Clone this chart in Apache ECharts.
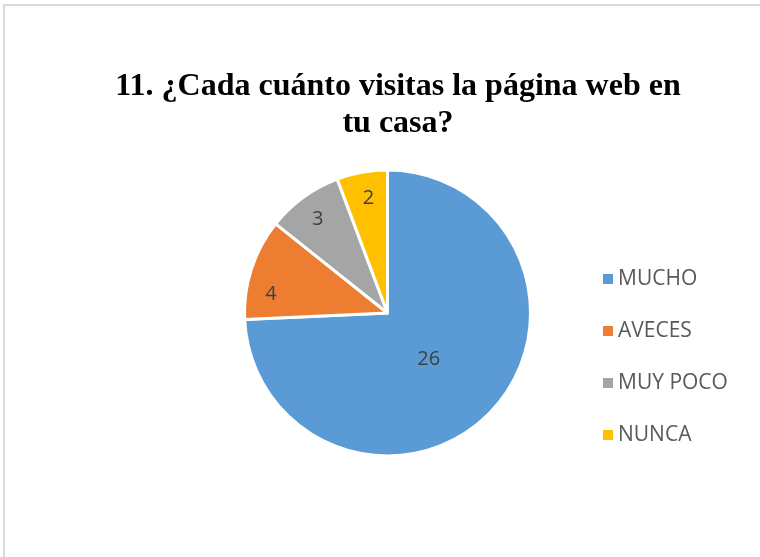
<!DOCTYPE html>
<html>
<head>
<meta charset="utf-8">
<script src="https://cdn.jsdelivr.net/npm/echarts@6/dist/echarts.min.js"></script>
<style>
    html, body { margin: 0; padding: 0; background: #fff; }
    #frame {
        position: absolute; left: 3px; top: 4px; width: 760px; height: 560px;
        border-top: 2px solid #d9d9d9; border-left: 2px solid #d9d9d9;
    }
    #chart { position: absolute; left: 0; top: 0; width: 760px; height: 557px; }
</style>
</head>
<body>
<div id="frame"></div>
<div id="chart"></div>
<script>
// chart data
const titleText = '11. ¿Cada cuánto visitas la página web en\ntu casa?';
const categories = ['MUCHO', 'AVECES', 'MUY POCO', 'NUNCA'];
const values = [26, 4, 3, 2];
const colors = ['#5B9BD5', '#ED7D31', '#A5A5A5', '#FFC000'];

const center = [387.5, 313];
const radius = 143;

// Excel puts small-slice labels near the rim and the big one nearer the middle,
// and not always on the mid angle, so nudge them a bit (pixels)
const labelNudge = [[-5, 2], [1, 20], [3, 6], [3, 7]];

const chart = echarts.init(document.getElementById('chart'), null, { renderer: 'canvas' });

const total = values.reduce((a, b) => a + b, 0);
const labelRatio = (idx) => (values[idx] / total > 0.5 ? 0.43 : 0.83);

const option = {
    animation: false,
    color: colors,
    title: {
        text: titleText,
        left: 393,
        top: 63,
        textAlign: 'center',
        textStyle: {
            fontFamily: 'Liberation Serif',
            fontWeight: 'bold',
            fontSize: 32,
            lineHeight: 37,
            color: '#000'
        }
    },
    legend: {
        orient: 'vertical',
        left: 598,
        top: 262,
        icon: 'rect',
        itemWidth: 10,
        itemHeight: 10,
        itemGap: 28,
        selectedMode: false,
        data: categories,
        itemStyle: { borderWidth: 0 },
        textStyle: {
            fontFamily: 'Open Sans',
            fontSize: 21,
            lineHeight: 24,
            color: '#595959',
            padding: [0, 0, 0, 0]
        }
    },
    series: [{
        type: 'pie',
        center: center,
        radius: radius,
        startAngle: 90,
        clockwise: true,
        avoidLabelOverlap: false,
        data: categories.map((name, i) => ({ name: name, value: values[i] })),
        itemStyle: {
            borderColor: '#fff',
            borderWidth: 3
        },
        label: {
            show: true,
            position: 'inside',
            formatter: '{c}',
            fontFamily: 'Open Sans',
            fontSize: 20,
            color: '#404040'
        },
        labelLine: { show: false },
        labelLayout: (params) => {
            const r = params.labelRect;
            const lx = r.x + r.width / 2 - center[0];
            const ly = r.y + r.height / 2 - center[1];
            const k = labelRatio(params.dataIndex) / 0.5 - 1;
            const n = labelNudge[params.dataIndex];
            return { dx: lx * k + n[0], dy: ly * k + n[1] };
        },
        emphasis: { disabled: true }
    }]
};
chart.setOption(option);
</script>
</body>
</html>
